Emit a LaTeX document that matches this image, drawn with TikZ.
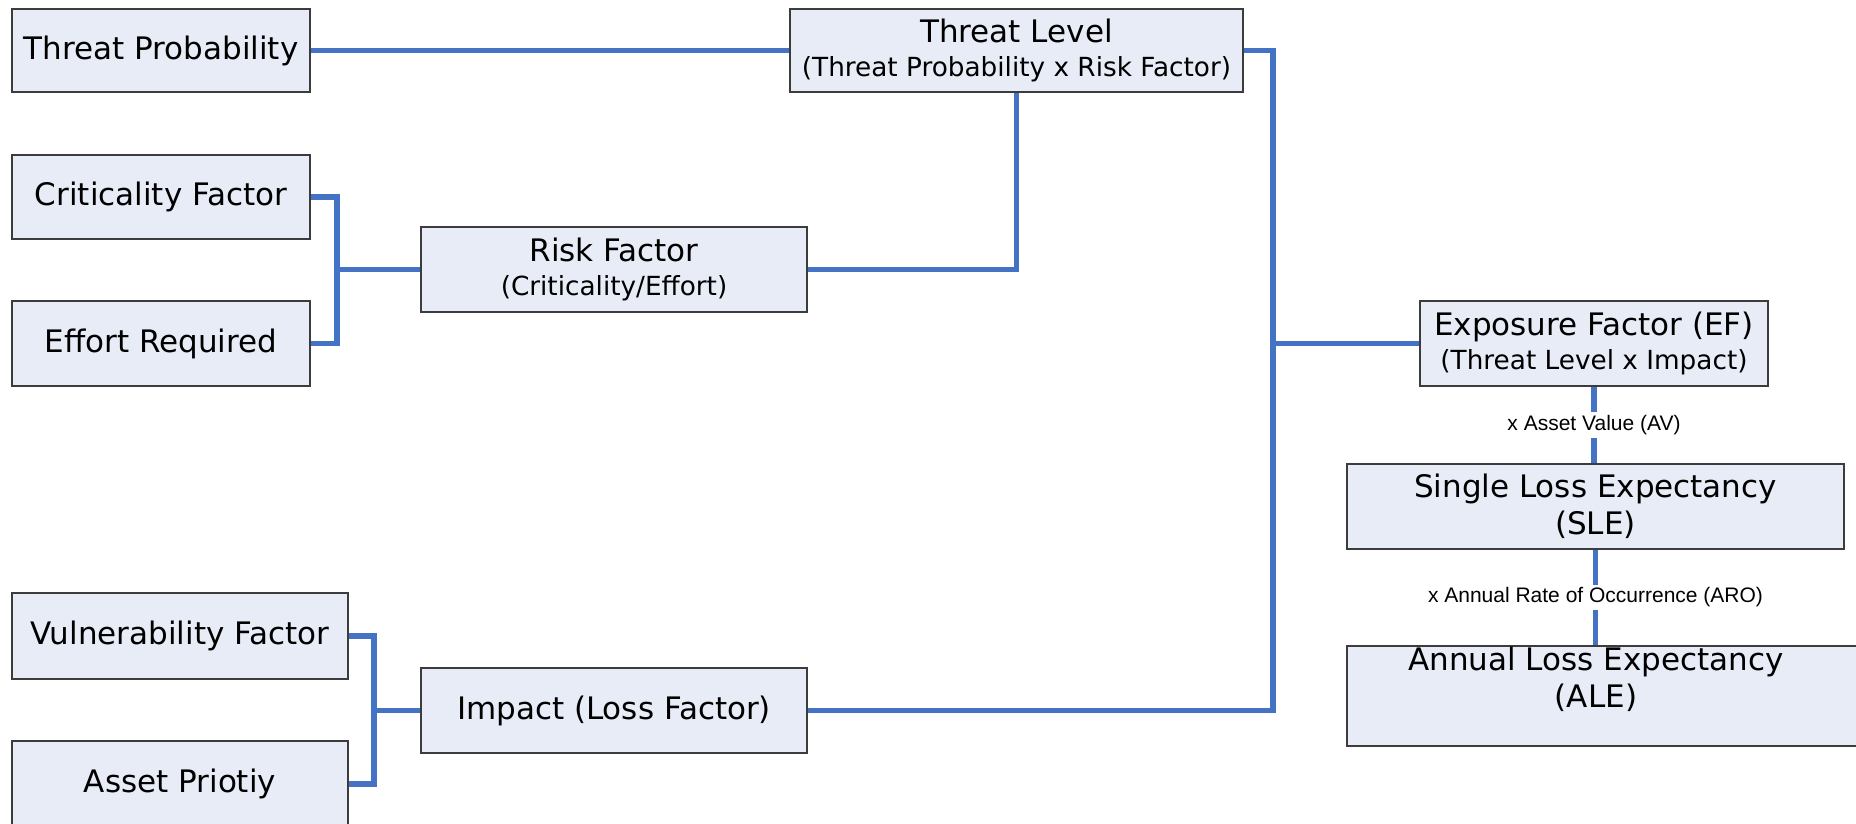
\documentclass[tikz,border=0pt]{standalone}
\usepackage{fontspec}
\setmainfont{DejaVu Sans}
\newfontfamily\lblfont{Liberation Sans}
\definecolor{lineblue}{RGB}{68,114,196}
\definecolor{boxfill}{RGB}{231,236,246}
\definecolor{boxdraw}{RGB}{60,60,60}
\begin{document}
\begin{tikzpicture}[x=1pt,y=-1pt,
  box/.style={draw=boxdraw, line width=1.3pt, fill=boxfill, inner sep=0pt, align=center,
              font=\fontsize{31}{34}\selectfont},
  plain/.style={inner sep=0pt, align=center, font=\fontsize{31}{37}\selectfont},
  conn/.style={draw=lineblue, line width=5.2pt},
  lbl/.style={fill=white, inner sep=3pt, font=\lblfont\fontsize{21}{24}\selectfont}]
\clip (0,0) rectangle (1856,824);
\useasboundingbox (0,0) rectangle (1856,824);
\newcommand{\subt}[1]{{\fontsize{26.3}{30}\selectfont #1}}
% nodes
\node[box, minimum width=298, minimum height=83] (tp) at (161,50.5) {Threat Probability};
\node[box, minimum width=453, minimum height=83] (tl) at (1016.5,50.5) {Threat Level\\\subt{(Threat Probability x Risk Factor)}};
\node[box, minimum width=298, minimum height=84] (cf) at (161,197) {Criticality Factor};
\node[box, minimum width=298, minimum height=85] (er) at (161,343.5) {Effort Required};
\node[box, minimum width=386, minimum height=85] (rf) at (614,269.5) {Risk Factor\\\subt{(Criticality/Effort)}};
\node[box, minimum width=348, minimum height=85] (ef) at (1594,343.5) {Exposure Factor (EF)\\\subt{(Threat Level x Impact)}};
\node[box, minimum width=497, minimum height=85, font=\fontsize{31}{37}\selectfont] (sle) at (1595.5,506.5) {Single Loss Expectancy\\(SLE)};
\node[box, minimum width=523, minimum height=100] (ale) at (1608.5,696) {};
\node[plain] (aletext) at (1596,679) {Annual Loss Expectancy\\(ALE)};
\node[box, minimum width=336, minimum height=86] (vf) at (180,636) {Vulnerability Factor};
\node[box, minimum width=336, minimum height=86] (ap) at (180,784) {Asset Priotiy};
\node[box, minimum width=386, minimum height=85] (im) at (614,710.5) {Impact (Loss Factor)};
% helper coordinates
\coordinate (bus) at (1273,0);
\coordinate (j1) at (337,0);
\coordinate (j2) at (374,0);
% connectors
\draw[conn] (tp.east) -- (tl.west);
\draw[conn] (tl.east) -- (bus |- tl.east) -- (bus |- im.east) -- (im.east);
\draw[conn] (bus |- ef.west) -- (ef.west);
\draw[conn] (rf.east) -| (tl.south);
\draw[conn] (cf.east) -- (j1 |- cf.east) -- (j1 |- er.east) -- (er.east);
\draw[conn] (j1 |- rf.west) -- (rf.west);
\draw[conn] (vf.east) -- (j2 |- vf.east) -- (j2 |- ap.east) -- (ap.east);
\draw[conn] (j2 |- im.west) -- (im.west);
\draw[conn] (ef.south) -- node[lbl] {x Asset Value (AV)} (ef.south |- sle.north);
\draw[conn] (sle.south) -- node[lbl] {x Annual Rate of Occurrence (ARO)} (sle.south |- ale.north);
\end{tikzpicture}
\end{document}
